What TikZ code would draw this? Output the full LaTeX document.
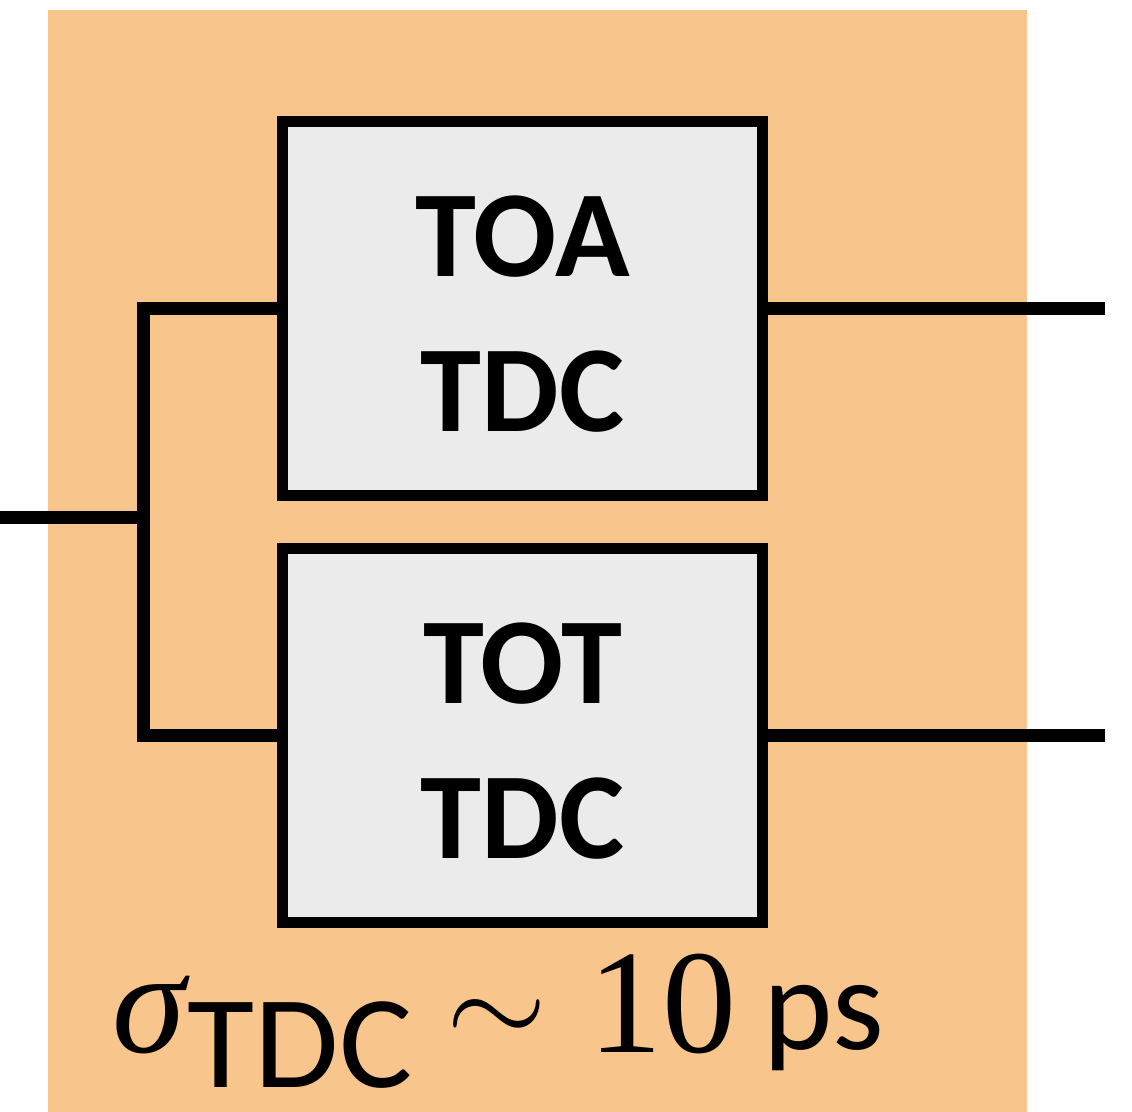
\documentclass[tikz,border=0pt]{standalone}
\usepackage{fontspec}
\newfontfamily\carlito{Carlito}
\newfontfamily\lserif{Liberation Serif}
\usepackage{graphicx}
\definecolor{bgorange}{HTML}{F8C68C}
\definecolor{boxgray}{HTML}{EBEBEB}
\begin{document}
\begin{tikzpicture}[x=0.01cm,y=-0.01cm,
  tdcbox/.style={draw=black, fill=boxgray, line width=3.13pt,
    minimum width=4.795cm, minimum height=3.73cm, inner sep=0pt,
    align=center, font=\carlito\bfseries\fontsize{35pt}{44.1pt}\selectfont},
  wire/.style={line width=3.7pt, line join=miter},
  txt/.style={inner sep=0pt, anchor=base west}]
\useasboundingbox (0,0) rectangle (1132,1112);
\fill[bgorange] (48,10) rectangle (1027,1112);
\coordinate (in) at (0,517.5);
\coordinate (j) at (143.5,517.5);
\coordinate (o1) at (1105,308.5);
\coordinate (o2) at (1105,735.5);
\node[tdcbox] (toa) at (522.75,308.5) {\rule{0pt}{0.92cm}TOA\\TDC};
\node[tdcbox] (tot) at (522.75,735.5) {\rule{0pt}{0.92cm}TOT\\TDC};
\draw[wire] (toa.west) -| (j) |- (tot.west);
\draw[wire] (in) -- (j);
\draw[wire] (toa.east) -- (o1);
\draw[wire] (tot.east) -- (o2);
\node[txt, font=\lserif\itshape\fontsize{42.1pt}{50pt}\selectfont] (sig) at (112,1052) {σ};
\node[txt, font=\carlito\fontsize{37.6pt}{45pt}\selectfont] (sub) at (187,1087) {\scalebox{1.04}[1]{TDC}};
\node[inner sep=0pt, font=\fontsize{24.88pt}{30pt}\selectfont] (sim) at (497,1022) {\scalebox{1.48}[1.4]{$\sim$}};
\node[txt, font=\lserif\fontsize{42.1pt}{50pt}\selectfont] (ten) at (588,1052) {10};
\node[txt, font=\carlito\fontsize{37.6pt}{45pt}\selectfont] (ps) at (763,1050) {ps};
\end{tikzpicture}
\end{document}
